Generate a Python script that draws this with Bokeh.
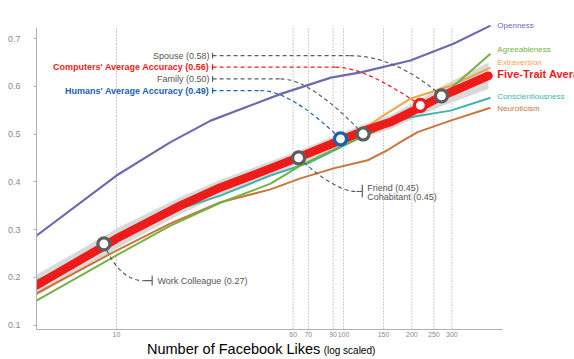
from bokeh.plotting import figure
from bokeh.models import Range1d, FixedTicker, BasicTickFormatter, Div
from bokeh.layouts import column
from bokeh.core.properties import value
from bokeh.embed import file_html
from bokeh.resources import INLINE

FONT = "Liberation Sans"

# ---------------- data ----------------
x_ticks = [10, 60, 70, 90, 100, 150, 200, 250, 300]
y_ticks = [0.1, 0.2, 0.3, 0.4, 0.5, 0.6, 0.7]

likes_open = [4.44, 10, 17.3, 26, 53, 88, 119, 197, 305, 444]
openness = [0.287, 0.413, 0.483, 0.528, 0.584, 0.618, 0.629, 0.654, 0.689, 0.727]

likes_agree = [4.44, 10, 17.3, 28.7, 47.7, 64.6, 97, 145.5, 197, 296, 444]
agreeableness = [0.151, 0.246, 0.308, 0.356, 0.396, 0.434, 0.474, 0.511, 0.543, 0.595, 0.668]

likes_extra = [4.44, 10, 19.1, 28.7, 47.7, 64.6, 97, 119, 145.5, 197, 296, 444]
extraversion = [0.183, 0.279, 0.350, 0.386, 0.424, 0.449, 0.484, 0.505, 0.535, 0.574, 0.601, 0.639]

likes_consc = [4.44, 10, 17.3, 28.7, 47.7, 71.5, 97, 145.5, 197, 296, 444]
conscientiousness = [0.193, 0.275, 0.337, 0.371, 0.413, 0.441, 0.472, 0.514, 0.535, 0.549, 0.576]

likes_neuro = [4.44, 10, 17.3, 28.7, 47.7, 64.6, 90.4, 127.6, 156, 178, 212, 296, 444]
neuroticism = [0.166, 0.256, 0.313, 0.357, 0.384, 0.407, 0.428, 0.445, 0.466, 0.483, 0.504, 0.528, 0.555]

likes_avg = [4.44, 8.8, 10, 19.1, 28.7, 47.7, 63.4, 97, 122, 161, 218, 270, 435]
average = [0.183, 0.265, 0.281, 0.350, 0.388, 0.428, 0.451, 0.487, 0.506, 0.525, 0.556, 0.579, 0.622]
band_half = [0.022, 0.021, 0.021, 0.018, 0.016, 0.015, 0.014, 0.014, 0.014, 0.015, 0.017, 0.021, 0.028]

judges = ["Work Colleague", "Friend", "Humans' Average Accuracy", "Family",
          "Computers' Average Accuracy", "Spouse"]
judge_likes = [8.8, 63.4, 97, 122, 218, 270]
judge_acc = [0.27, 0.45, 0.49, 0.50, 0.56, 0.58]
cohabitant_acc = 0.45

trait_names = ["Openness", "Agreeableness", "Extraversion", "Five-Trait Average",
               "Conscientiousness", "Neuroticism"]

# ---------------- styles / layout ----------------
C_OPEN = "#6b6bb0"
C_AGREE = "#74b043"
C_EXTRA = "#f0a548"
C_CONSC = "#3cb4aa"
C_NEURO = "#c8763c"
C_RED = "#ee1b1b"
C_BLUE = "#1b5fb0"
C_GRAY = "#5e5e5e"
C_TXT = "#555555"
DASH = "4 3"

Y0, Y1 = 0.0906, 0.7796
X0, X1 = 4.443, 1041

p = figure(width=574, height=342, x_axis_type="log",
           x_range=Range1d(X0, X1), y_range=Range1d(Y0, Y1),
           output_backend="svg", toolbar_location=None,
           min_border_left=36, min_border_right=0, min_border_top=0,
           min_border_bottom=13)
p.grid.visible = False
p.outline_line_color = None
p.background_fill_color = "white"

# axes
p.yaxis.ticker = FixedTicker(ticks=y_ticks)
p.yaxis.bounds = (Y0, 0.7236)
p.yaxis.axis_line_color = "#b0b0b0"
p.yaxis.major_tick_line_color = "#b0b0b0"
p.yaxis.major_tick_out = 3
p.yaxis.major_tick_in = 0
p.yaxis.minor_tick_line_color = None
p.yaxis.major_label_text_font = FONT
p.yaxis.major_label_text_font_size = "9px"
p.yaxis.major_label_text_color = "#8a8a8a"
p.yaxis.major_label_standoff = 13

p.xaxis.ticker = FixedTicker(ticks=x_ticks)
p.xaxis.formatter = BasicTickFormatter(use_scientific=False)
p.xaxis.bounds = (X0, 501.6)
p.xaxis.axis_line_color = "#b0b0b0"
p.xaxis.major_tick_line_color = None
p.xaxis.major_tick_out = 0
p.xaxis.major_tick_in = 0
p.xaxis.minor_tick_line_color = None
p.xaxis.major_label_text_font = FONT
p.xaxis.major_label_text_font_size = "7px"
p.xaxis.major_label_text_color = "#8a8a8a"
p.xaxis.major_label_standoff = 2

# dotted guide lines at the tick positions
p.segment(x0=x_ticks, y0=[Y0] * len(x_ticks), x1=x_ticks, y1=[0.7236] * len(x_ticks),
          line_color="#9a9a9a", line_width=1, line_dash="1 2")

# confidence band
lo = [a - b for a, b in zip(average, band_half)]
hi = [a + b for a, b in zip(average, band_half)]
p.varea(x=likes_avg, y1=lo, y2=hi, fill_color="#d2d2d2", fill_alpha=0.85)

# trait lines
p.line(likes_neuro, neuroticism, line_color=C_NEURO, line_width=2, line_join="round")
p.line(likes_consc, conscientiousness, line_color=C_CONSC, line_width=2, line_join="round")
p.line(likes_extra, extraversion, line_color=C_EXTRA, line_width=2, line_join="round")
p.line(likes_agree, agreeableness, line_color=C_AGREE, line_width=2, line_join="round")
p.line(likes_open, openness, line_color=C_OPEN, line_width=2.2, line_join="round")
p.line(likes_avg, average, line_color=C_RED, line_width=8.5, line_cap="round",
       line_join="round")

# ---------------- annotations ----------------
left_idx = [5, 4, 3, 2]
left_text = ["Spouse (0.58)", "Computers' Average Accuracy (0.56)",
             "Family (0.50)", "Humans' Average Accuracy (0.49)"]
left_y = [0.664, 0.640, 0.6156, 0.591]
left_col = [C_TXT, C_RED, C_TXT, C_BLUE]
left_bold = ["normal", "bold", "normal", "bold"]
left_dash_col = [C_GRAY, C_RED, C_GRAY, C_BLUE]
elbow1 = [107, 92.2, 52.8, 43]
elbow2 = [169, 125, 71.5, 58.4]
TXT_X = 25.68
BAR_X = 26.5

for k in range(4):
    i = left_idx[k]
    y = left_y[k]
    p.segment(x0=[BAR_X], y0=[y - 0.006], x1=[BAR_X], y1=[y + 0.006],
              line_color=left_dash_col[k], line_width=1.2)
    p.segment(x0=[BAR_X], y0=[y], x1=[elbow1[k]], y1=[y],
              line_color=left_dash_col[k], line_width=1.2, line_dash=DASH)
    p.quadratic(x0=[elbow1[k]], y0=[y], x1=[judge_likes[i]], y1=[judge_acc[i]],
                cx=[elbow2[k]], cy=[y], line_color=left_dash_col[k],
                line_width=1.2, line_dash=DASH)
    p.text(x=[TXT_X], y=[y], text=[left_text[k]], text_align="right",
           text_baseline="middle", text_font=value(FONT), text_font_size="9px",
           text_font_style=left_bold[k], text_color=left_col[k])

# work colleague
wc_y = 0.193
p.quadratic(x0=[judge_likes[0]], y0=[judge_acc[0]], x1=[13.15], y1=[wc_y],
            cx=[10.3], cy=[wc_y], line_color=C_GRAY, line_width=1.2, line_dash=DASH)
p.segment(x0=[13.15], y0=[wc_y], x1=[14.36], y1=[wc_y], line_color=C_GRAY, line_width=1.2)
p.segment(x0=[14.36], y0=[wc_y - 0.0105], x1=[14.36], y1=[wc_y + 0.0105],
          line_color=C_GRAY, line_width=1.2)
p.text(x=[15.16], y=[wc_y], text=["Work Colleague (0.27)"], text_baseline="middle",
       text_font=value(FONT), text_font_size="9px", text_color=C_TXT)

# friend / cohabitant
fr_y = 0.3796
p.quadratic(x0=[judge_likes[1]], y0=[judge_acc[1]], x1=[114], y1=[fr_y],
            cx=[92.2], cy=[fr_y], line_color=C_GRAY, line_width=1.2, line_dash=DASH)
p.segment(x0=[114], y0=[fr_y], x1=[121], y1=[fr_y], line_color=C_GRAY, line_width=1.2)
p.segment(x0=[121], y0=[0.3677], x1=[121], y1=[0.3938], line_color=C_GRAY, line_width=1.2)
p.text(x=[127.2, 127.2], y=[0.3873, 0.369],
       text=["Friend (%.2f)" % judge_acc[1], "Cohabitant (%.2f)" % cohabitant_acc],
       text_baseline="middle", text_font=value(FONT), text_font_size="9px",
       text_color=C_TXT)

# judge circles
ring_cols = [C_GRAY, C_GRAY, C_BLUE, C_GRAY, C_RED, C_GRAY]
p.scatter(judge_likes, judge_acc, size=12, fill_color="white", line_color=ring_cols,
          line_width=3.2)

# right-hand trait labels
lab_y = [0.727, 0.676, 0.649, 0.626, 0.5785, 0.554]
lab_col = [C_OPEN, C_AGREE, C_EXTRA, C_RED, C_CONSC, C_NEURO]
for k in range(6):
    big = trait_names[k] == "Five-Trait Average"
    p.text(x=[476], y=[lab_y[k]], text=[trait_names[k]], text_baseline="middle",
           text_font=value(FONT), text_font_size="11px" if big else "8px",
           text_font_style="bold" if big else "normal", text_color=lab_col[k])

# x-axis title in two sizes
title = Div(
    text='<span style="font-size:14.5px">Number of Facebook Likes</span> '
         '<span style="font-size:10px">(log scaled)</span>',
    width=574, height=17, margin=(0, 0, 0, 0),
    styles={"font-family": FONT, "color": "black", "line-height": "15px",
            "padding-left": "147px", "white-space": "nowrap", "overflow": "visible"})

layout = column(p, title, spacing=0)
open("out.html", "w").write(file_html(layout, INLINE))
